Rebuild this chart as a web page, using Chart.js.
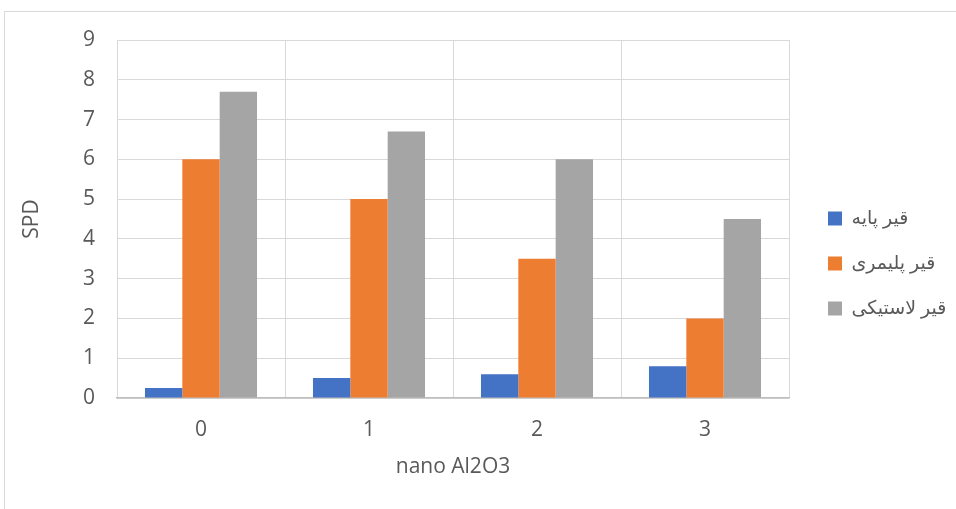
<!DOCTYPE html>
<html>
<head>
<meta charset="utf-8">
<script src="https://cdn.jsdelivr.net/npm/chart.js@4.4.1/dist/chart.umd.min.js"></script>
<style>
  html, body { margin: 0; padding: 0; background: #ffffff; overflow: hidden; }
  #wrap { position: relative; width: 956px; height: 509px; }
  #frame { position: absolute; left: 4px; top: 11px; width: 1000px; height: 600px; border: 1px solid #d9d9d9; box-sizing: border-box; pointer-events: none; }
  canvas { position: absolute; left: 0; top: 0; }
</style>
</head>
<body>
<div id="wrap">
  <canvas id="c" width="956" height="509"></canvas>
  <div id="frame"></div>
</div>
<script>
const categories = ['0', '1', '2', '3'];
const seriesNames = ['قیر پایه', 'قیر پلیمری', 'قیر لاستیکی'];
const baseBitumen = [0.25, 0.5, 0.6, 0.8];
const polymerBitumen = [6, 5, 3.5, 2];
const rubberBitumen = [7.7, 6.7, 6, 4.5];
const yTicks = [0, 1, 2, 3, 4, 5, 6, 7, 8, 9];
const xTitle = 'nano Al2O3';
const yTitle = 'SPD';

const FONT = "'Open Sans', 'DejaVu Sans', sans-serif";
const TXT = '#595959';
const GRID = '#d9d9d9';

new Chart(document.getElementById('c'), {
  type: 'bar',
  data: {
    labels: categories,
    datasets: [
      { label: seriesNames[0], data: baseBitumen, backgroundColor: '#4472C4' },
      { label: seriesNames[1], data: polymerBitumen, backgroundColor: '#ED7D31' },
      { label: seriesNames[2], data: rubberBitumen, backgroundColor: '#A5A5A5' }
    ]
  },
  options: {
    responsive: false,
    animation: false,
    devicePixelRatio: 1,
    categoryPercentage: 0.667,
    barPercentage: 1,
    layout: { padding: { top: 40, left: 0, right: 2, bottom: 0 } },
    font: { family: FONT },
    plugins: {
      tooltip: { enabled: false },
      legend: {
        position: 'right',
        align: 'start',
        maxWidth: 152,
        title: { display: true, text: ' ', font: { size: 10, lineHeight: 1 }, padding: { top: 0, bottom: 133 } },
        labels: {
          boxWidth: 14,
          boxHeight: 14,
          padding: 26,
          color: TXT,
          font: { family: FONT, size: 19 }
        }
      }
    },
    scales: {
      x: {
        grid: { color: GRID, drawTicks: false, offset: true },
        border: { color: '#bfbfbf', width: 1.5 },
        ticks: { color: TXT, padding: 19, font: { family: FONT, size: 21 } },
        title: { display: true, text: xTitle, color: TXT, font: { family: FONT, size: 21 }, padding: { top: 0, bottom: 29 } },
        afterFit: s => { s.height = 111; }
      },
      y: {
        min: 0,
        max: 9,
        afterBuildTicks: s => { s.ticks = yTicks.map(v => ({ value: v })); },
        grid: { color: GRID, drawTicks: false },
        border: { display: false },
        ticks: { color: TXT, padding: 22, font: { family: FONT, size: 21 } },
        title: { display: true, text: yTitle, color: TXT, font: { family: FONT, size: 21 }, padding: { top: 19, bottom: 0 } },
        afterFit: s => { s.width = 117; }
      },
      yR: {
        type: 'linear',
        position: 'right',
        display: true,
        grid: { display: false },
        border: { display: false },
        ticks: { display: false },
        afterFit: s => { s.width = 13; }
      }
    }
  }
});
</script>
</body>
</html>
